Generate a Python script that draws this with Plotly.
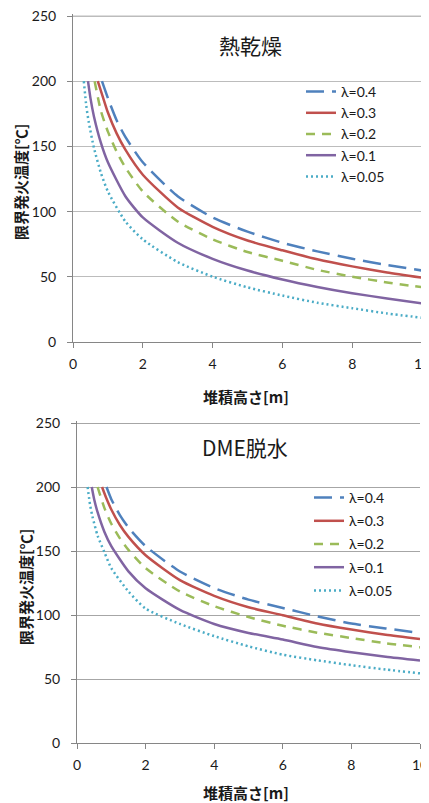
import plotly.graph_objects as go

W, H = 429, 803
OFF = 8  # page body margin of the browser

# ---------------- data ----------------
legend_labels = ["λ=0.4", "λ=0.3", "λ=0.2", "λ=0.1", "λ=0.05"]
line_colors = ["#4F81BD", "#C0504D", "#9BBB59", "#8064A2", "#4BACC6"]
line_dashes = ["18px,8px", "solid", "9px,7px", "solid", "2px,3px"]

title_top = "熱乾燥"
title_bottom = "DME脱水"
x_title = "堆積高さ[m]"
y_title = "限界発火温度[℃]"

# Top chart (熱乾燥): stack height [m] vs critical ignition temperature [℃]
top_h_l04 = [0.83, 1, 1.25, 1.5, 2, 3, 4, 5, 6, 7, 8, 9, 10]
top_t_l04 = [200, 187, 170, 157.3, 137.8, 111.8, 95.5, 84.6, 76.1, 69.5, 63.8, 59, 54.8]
top_h_l03 = [0.71, 0.85, 1, 1.25, 1.5, 2, 3, 4, 5, 6, 7, 8, 9, 10]
top_t_l03 = [200, 188.4, 176, 160, 147.5, 128.3, 103.2, 88.3, 77.8, 70.3, 63.4, 58, 53.3, 49.3]
top_h_l02 = [0.62, 0.8, 1, 1.25, 1.5, 2, 3, 4, 5, 6, 7, 8, 9, 10]
top_t_l02 = [200, 177.2, 161.3, 146, 133.9, 115.4, 92.4, 78.7, 69, 62.3, 55.3, 50.1, 45.7, 42]
top_h_l01 = [0.43, 0.5, 0.6, 0.8, 1, 1.5, 2, 3, 4, 5, 6, 7, 8, 9, 10]
top_t_l01 = [200, 187, 173, 152.7, 137.8, 111.8, 95.5, 76.1, 63.8, 54.8, 47.9, 42.2, 37.4, 33.4, 29.6]
top_h_l005 = [0.31, 0.38, 0.45, 0.6, 0.8, 1, 1.5, 2, 3, 4, 5, 6, 7, 8, 9, 10]
top_t_l005 = [200, 181.2, 168.8, 148.9, 129.6, 115.4, 92.5, 78.7, 61.3, 50.1, 41.9, 35.6, 30.1, 25.9, 21.9, 18.6]

# Bottom chart (DME脱水)
bot_h_l04 = [0.86, 1, 1.25, 1.5, 2, 3, 4, 5, 6, 7, 8, 9, 10]
bot_t_l04 = [200, 190.5, 178, 168.3, 153.8, 134, 121, 112, 105.5, 99, 93.3, 89.5, 86]
bot_h_l03 = [0.73, 0.85, 1, 1.25, 1.5, 2, 3, 4, 5, 6, 7, 8, 9, 10]
bot_t_l03 = [200, 191.6, 182.4, 170.3, 161, 146.7, 127.3, 115, 106.1, 99.8, 93.4, 88.6, 84.5, 81.2]
bot_h_l02 = [0.6, 0.8, 1, 1.25, 1.5, 2, 3, 4, 5, 6, 7, 8, 9, 10]
bot_t_l02 = [200, 183.5, 171.3, 159.9, 150.9, 136.6, 118.4, 106.9, 98.4, 91.6, 86.2, 82, 77.9, 74.8]
bot_h_l01 = [0.43, 0.5, 0.6, 0.8, 1, 1.5, 2, 3, 4, 5, 6, 7, 8, 9, 10]
bot_t_l01 = [200, 190.5, 180.3, 164.9, 153.8, 134.1, 120.9, 104, 93, 86, 80.8, 75, 70.9, 67.4, 64.5]
bot_h_l005 = [0.31, 0.38, 0.45, 0.6, 0.8, 1, 1.5, 2, 3, 4, 5, 6, 7, 8, 9, 10]
bot_t_l005 = [200, 186.3, 177, 162, 149, 136.6, 118.4, 105, 93, 83.5, 75.5, 69, 64.6, 60.8, 57.4, 54.4]

x_ticks = [0, 2, 4, 6, 8, 10]
y_ticks = [0, 50, 100, 150, 200, 250]
y_top_tick = y_ticks[-1]
y_max = 251.5  # a little above the top tick so the 250 gridline sits inside the plot

top_series = [(top_h_l04, top_t_l04), (top_h_l03, top_t_l03), (top_h_l02, top_t_l02),
              (top_h_l01, top_t_l01), (top_h_l005, top_t_l005)]
bot_series = [(bot_h_l04, bot_t_l04), (bot_h_l03, bot_t_l03), (bot_h_l02, bot_t_l02),
              (bot_h_l01, bot_t_l01), (bot_h_l005, bot_t_l005)]

# ---------------- figure ----------------
TICK_FONT = dict(family="Lato, 'Open Sans', sans-serif", size=14, color="#1a1a1a")
CJK = "'Noto Sans CJK JP', 'Noto Sans', sans-serif"
TOP_GRID = "#bcbcbc"
BOT_GRID = "#a6a6a6"

fig = go.Figure()

for i, (hx, ty) in enumerate(top_series):
    fig.add_trace(go.Scatter(
        x=hx, y=ty, mode="lines", name=legend_labels[i],
        line=dict(color=line_colors[i], width=2.5, dash=line_dashes[i], shape="spline", smoothing=0.6),
        xaxis="x", yaxis="y", legend="legend", legendgroup="t%d" % i,
    ))
for i, (hx, ty) in enumerate(bot_series):
    fig.add_trace(go.Scatter(
        x=hx, y=ty, mode="lines", name=legend_labels[i],
        line=dict(color=line_colors[i], width=2.5, dash=line_dashes[i], shape="spline", smoothing=0.6),
        xaxis="x2", yaxis="y2", legend="legend2", legendgroup="b%d" % i,
    ))


def px_x(p):
    return (p - OFF) / W


def px_y(p):
    return 1 - (p - OFF) / H


def xaxis_cfg(domain, anchor):
    return dict(domain=domain, anchor=anchor, range=[0, 10], tickvals=x_ticks,
                showgrid=False, zeroline=False, showline=True, linecolor="#868686", linewidth=1,
                ticks="outside", ticklen=5, tickcolor="#868686", tickfont=TICK_FONT,
                ticklabelstandoff=4, ticklabeloverflow="allow", fixedrange=True, automargin=False)


def yaxis_cfg(domain, anchor, gridcolor):
    return dict(domain=domain, anchor=anchor, range=[0, y_max], tickvals=y_ticks,
                showgrid=True, gridcolor=gridcolor, gridwidth=1, zeroline=False,
                showline=True, linecolor="#868686", linewidth=1,
                ticks="outside", ticklen=5, tickcolor="#868686", tickfont=TICK_FONT,
                ticklabelstandoff=8, ticklabeloverflow="allow", fixedrange=True, automargin=False)


# pixel rows of the 0 and 250 ticks, the domain top is stretched to y_max
top_y0, top_y250 = 342, 16
bot_y0, bot_y250 = 743, 423
top_ytop = top_y0 - (top_y0 - top_y250) * y_max / 250
bot_ytop = bot_y0 - (bot_y0 - bot_y250) * y_max / 250

fig.update_layout(
    width=W, height=H,
    margin=dict(l=0, r=0, t=0, b=0, pad=0, autoexpand=False),
    paper_bgcolor="white", plot_bgcolor="white",
    showlegend=True,
    xaxis=xaxis_cfg([px_x(73), px_x(422)], "y"),
    yaxis=yaxis_cfg([px_y(top_y0), px_y(top_ytop)], "x", TOP_GRID),
    xaxis2=xaxis_cfg([px_x(77), px_x(420)], "y2"),
    yaxis2=yaxis_cfg([px_y(bot_y0), px_y(bot_ytop)], "x2", BOT_GRID),
    legend=dict(x=px_x(301), y=px_y(76), xanchor="left", yanchor="top",
                font=dict(family="Lato, 'Open Sans', sans-serif", size=14, color="#1a1a1a"),
                bgcolor="rgba(0,0,0,0)", borderwidth=0, tracegroupgap=0, traceorder="normal"),
    legend2=dict(x=px_x(309), y=px_y(482), xanchor="left", yanchor="top",
                 font=dict(family="Lato, 'Open Sans', sans-serif", size=14, color="#1a1a1a"),
                 bgcolor="rgba(0,0,0,0)", borderwidth=0, tracegroupgap=2, traceorder="grouped"),
)

# top gridline of the upper chart, drawn as a guide line on the axis scale
fig.add_shape(type="line", xref="x domain", yref="y", x0=0, x1=1, y0=y_top_tick, y1=y_top_tick,
              line=dict(color=TOP_GRID, width=1), layer="below")

ann = []
ann.append(dict(text=title_top, x=px_x(250), y=px_y(45), xref="paper", yref="paper",
                showarrow=False, xanchor="center", yanchor="middle",
                font=dict(family=CJK, size=21, color="#1a1a1a")))
ann.append(dict(text=title_bottom, x=px_x(245), y=px_y(447), xref="paper", yref="paper",
                showarrow=False, xanchor="center", yanchor="middle",
                font=dict(family=CJK, size=21, color="#1a1a1a")))
for (cx, cy) in [(246, 397), (246, 792)]:
    ann.append(dict(text="<b>%s</b>" % x_title, x=px_x(cx), y=px_y(cy), xref="paper", yref="paper",
                    showarrow=False, xanchor="center", yanchor="middle",
                    font=dict(family=CJK, size=15, color="#1a1a1a")))
for (cx, cy) in [(21, 182), (25, 587)]:
    ann.append(dict(text="<b>%s</b>" % y_title, x=px_x(cx), y=px_y(cy), xref="paper", yref="paper",
                    showarrow=False, xanchor="center", yanchor="middle", textangle=-90,
                    font=dict(family=CJK, size=15, color="#1a1a1a")))
fig.update_layout(annotations=ann)

fig.write_html("out.html")
